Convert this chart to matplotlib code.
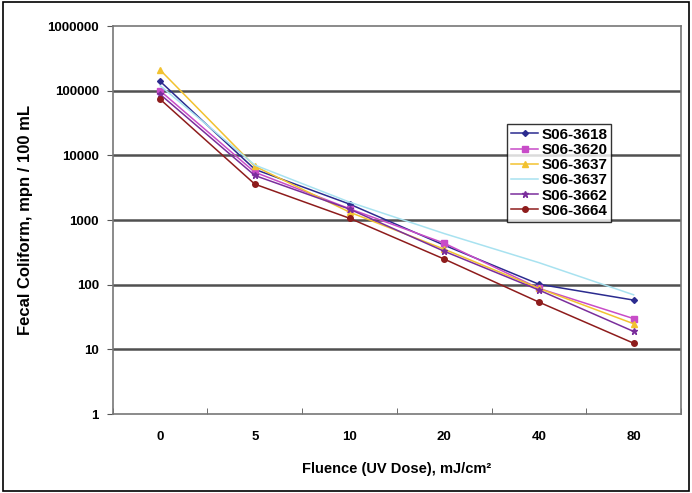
import matplotlib
matplotlib.use("Agg")
import matplotlib.pyplot as plt
from matplotlib.patches import Rectangle
import numpy as np

plt.rcParams['font.family'] = ['Liberation Sans', 'DejaVu Sans']

# fluence categories (plotted evenly spaced)
fluence = ['0', '5', '10', '20', '40', '80']

s3618 = [140000, 6100, 1770, 410, 102, 58]
s3620 = [100000, 5500, 1500, 440, 88, 30]
s3637a = [210000, 6800, 1330, 355, 88, 25]
s3637b = [120000, 7100, 1900, 620, 220, 70]
s3662 = [88000, 4900, 1480, 330, 83, 19]
s3664 = [74000, 3600, 1070, 250, 54, 12.5]

labels = ['S06-3618', 'S06-3620', 'S06-3637', 'S06-3637', 'S06-3662', 'S06-3664']
colors = ['#2b2b8f', '#c84cc8', '#f2c230', '#a8e2f0', '#7a2e9c', '#8e1c1c']
markers = ['D', 's', '^', '', '*', 'o']
msizes = [3, 4, 4, 0, 4.5, 4]

fig = plt.figure(figsize=(6.92, 4.93), dpi=100)
ax = fig.add_axes([0.163, 0.160, 0.821, 0.787])

x = np.arange(len(fluence))
series = [s3618, s3620, s3637a, s3637b, s3662, s3664]
for vals, lab, c, m, ms in zip(series, labels, colors, markers, msizes):
    ax.plot(x, vals, color=c, marker=m, markersize=ms, linewidth=1.1, label=lab)

ax.set_yscale('log')
ax.set_ylim(1, 1000000)
ax.set_xlim(-0.5, 5.5)
ax.set_yticks([1, 10, 100, 1000, 10000, 100000, 1000000])
ax.set_yticklabels(['1', '10', '100', '1000', '10000', '100000', '1000000'])
ax.yaxis.set_minor_locator(matplotlib.ticker.NullLocator())
ax.set_xticks(x)
ax.set_xticklabels(fluence)
ax.set_xticks(np.arange(-0.5, 6, 1), minor=True)
ax.tick_params(axis='x', which='major', length=0, pad=12)
ax.tick_params(axis='x', which='minor', length=4, direction='in', color='#555555')
ax.tick_params(axis='y', length=4, color='#555555', pad=6)
for lab in ax.get_xticklabels() + ax.get_yticklabels():
    lab.set_fontweight('bold')
    lab.set_fontsize(9.5)

for v in [10, 100, 1000, 10000, 100000]:
    ax.axhline(v, color='#505050', linewidth=1.8, zorder=0)

for s in ax.spines.values():
    s.set_color('#777777')
    s.set_linewidth(1.2)

ax.set_xlabel('Fluence (UV Dose), mJ/cm²', fontsize=10.5, fontweight='bold', labelpad=14)
ax.set_ylabel('Fecal Coliform, mpn / 100 mL', fontsize=12, fontweight='bold', labelpad=10)

leg = ax.legend(loc='upper left', bbox_to_anchor=(0.694, 0.748), fontsize=11,
                frameon=True, fancybox=False, borderpad=0.25, labelspacing=0.08,
                handlelength=1.8, handletextpad=0.2, borderaxespad=0)
leg.get_frame().set_edgecolor('black')
leg.get_frame().set_linewidth(1.0)
for t in leg.get_texts():
    t.set_fontweight('bold')

fig.patches.append(Rectangle((0.004, 0.004), 0.992, 0.992, transform=fig.transFigure,
                             fill=False, edgecolor='black', linewidth=1.2))

fig.savefig('out.png', dpi=100)
